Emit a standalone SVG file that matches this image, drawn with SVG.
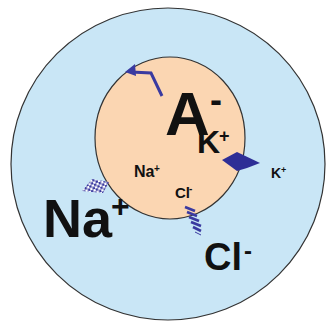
<svg xmlns="http://www.w3.org/2000/svg" width="326" height="327" viewBox="0 0 326 327">
<defs>
<style>
.t{font-family:"Liberation Sans",Arial,sans-serif;font-weight:bold;fill:#111}
.ch{fill:#2e2e96}
</style>
<pattern id="chk" width="5" height="5" patternUnits="userSpaceOnUse" patternTransform="rotate(-20)">
<rect width="5" height="5" fill="#fff"/>
<rect width="2.5" height="2.5" fill="#3a3aa0"/>
<rect x="2.5" y="2.5" width="2.5" height="2.5" fill="#3a3aa0"/>
</pattern>
</defs>
<rect width="326" height="327" fill="#fff"/>
<g id="outer"><ellipse cx="168" cy="164" rx="157" ry="156" fill="#c9e6f6" stroke="#333" stroke-width="1.2"/></g>
<g id="cell"><ellipse cx="170" cy="138" rx="75" ry="81" fill="#fbd6b2" stroke="#333" stroke-width="1.2"/></g>
<g id="connectors">
<polyline points="162,96 151,73 131,72" fill="none" stroke="#3a3aa0" stroke-width="3" stroke-linejoin="miter"/>
<path d="M135,64 L125,72 L136,76 Z" fill="#3a3aa0"/>
</g>
<g id="k-channel"><polygon class="ch" points="222,160 237,152 260,163 247,168 237,171"/></g>
<g id="na-channel"><polygon points="92,179 109,182 103,193 82,191" fill="url(#chk)"/></g>
<g id="cl-channel" stroke="#3a3aa0" stroke-width="2.6">
<line x1="185" y1="207" x2="195" y2="211"/>
<line x1="187" y1="212" x2="197" y2="216"/>
<line x1="189" y1="217" x2="199" y2="221"/>
<line x1="191" y1="222" x2="201" y2="226"/>
<line x1="193" y1="227" x2="201" y2="231"/>
<line x1="195" y1="232" x2="201" y2="235" stroke-width="1"/>
</g>
<g id="labels">
<text class="t" x="165" y="135" font-size="62">A</text>
<text class="t" x="210" y="112" font-size="36">-</text>
<text class="t" x="197" y="153" font-size="32">K</text>
<text class="t" x="219" y="142" font-size="18">+</text>
<text class="t" x="134" y="177" font-size="16">Na</text>
<text class="t" x="154" y="172" font-size="10">+</text>
<text class="t" x="271" y="178" font-size="14">K</text>
<text class="t" x="281" y="173" font-size="9">+</text>
<text class="t" x="175" y="198" font-size="15">Cl</text>
<text class="t" x="189" y="192" font-size="10">-</text>
<text class="t" x="43" y="237" font-size="54">Na</text>
<text class="t" x="111" y="217" font-size="32">+</text>
<text class="t" x="204" y="270" font-size="38">Cl</text>
<text class="t" x="244" y="259" font-size="24">-</text>
</g>
</svg>
